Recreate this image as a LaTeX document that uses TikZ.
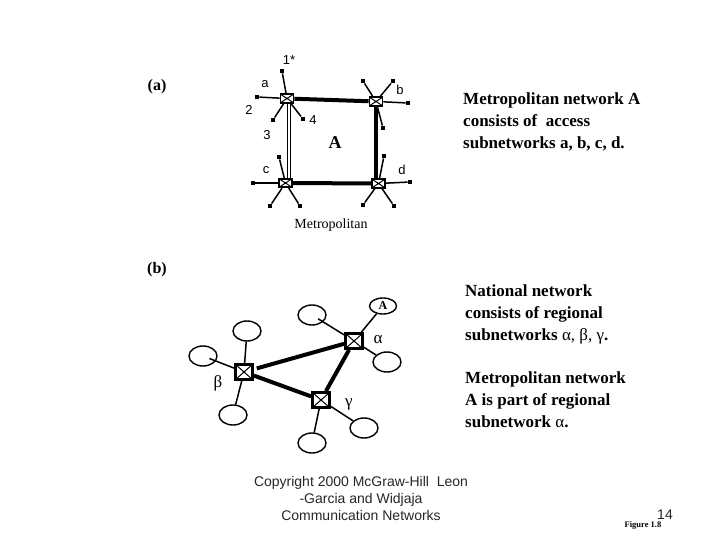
\documentclass[tikz,border=0pt]{standalone}
\usepackage{fontspec}
\setmainfont{Liberation Serif}
\setsansfont{Liberation Sans}
\usetikzlibrary{shapes.geometric}
\tikzset{
  xbox/.style={draw, fill=white, inner sep=0pt,
    path picture={\draw[line width=1pt]
      (path picture bounding box.north west) -- (path picture bounding box.south east)
      (path picture bounding box.north east) -- (path picture bounding box.south west);}},
  swa/.style={xbox, line width=1.8pt, minimum width=13pt, minimum height=8.5pt},
  swb/.style={xbox, line width=2.8pt, minimum width=17pt, minimum height=15pt},
  tip/.style={fill, rectangle, minimum size=4.5pt, inner sep=0pt},
  stub/.style={line width=1.5pt},
  trunk/.style={line width=4pt},
  dbl/.style={double, double distance=2.5pt, line width=0.7pt},
  host/.style={draw, ellipse, line width=1.4pt, minimum width=28pt, minimum height=20pt, inner sep=0pt},
  lab/.style={font=\sffamily\fontsize{13}{13}\selectfont, inner sep=0pt},
  greek/.style={font=\fontsize{17}{17}\selectfont, inner sep=0pt},
  side/.style={font=\bfseries\fontsize{17}{22}\selectfont, align=left, anchor=north west, inner sep=0pt},
}
\begin{document}
\begin{tikzpicture}[x=1pt, y=-1pt]
\useasboundingbox (0,0) rectangle (720,540);

% ---------- (a) ----------
\node[font=\bfseries\fontsize{16}{16}\selectfont, inner sep=0pt] (la) at (157,87) {(a)};

\node[swa] (sa) at (287,98.5) {};
\node[swa] (sb) at (376,101.5) {};
\node[swa] (sc) at (285.5,183) {};
\node[swa] (sd) at (378.5,183.5) {};

\draw[trunk] (sa) -- (sb);
\draw[trunk] (sc) -- (sd);
\draw[trunk] (sb.south) -- (sb.south |- sd.north);
\draw[dbl] ([xshift=2pt]sa.south) -- ([xshift=2pt]sa.south |- sc.north);

% stubs of a
\node[tip] (a1) at (282,71) {};
\node[tip] (a2) at (257,97) {};
\node[tip] (a3) at (273,120) {};
\node[tip] (a4) at (303,119) {};
\draw[stub] (sa) -- (a1);
\draw[stub] (sa) -- (a2);
\draw[stub] (sa) -- (a3);
\draw[stub] (sa) -- (a4);
% stubs of b
\node[tip] (b1) at (363,81) {};
\node[tip] (b2) at (393,81) {};
\node[tip] (b3) at (408,103) {};
\node[tip] (b4) at (383,128) {};
\draw[stub] (sb) -- (b1);
\draw[stub] (sb) -- (b2);
\draw[stub] (sb) -- (b3);
\draw[stub] (sb) -- (b4);
% stubs of c
\node[tip] (c1) at (279,157) {};
\node[tip] (c2) at (253,183) {};
\node[tip] (c3) at (270,206) {};
\node[tip] (c4) at (300,206) {};
\draw[stub] (sc) -- (c1);
\draw[stub] (sc) -- (c2);
\draw[stub] (sc) -- (c3);
\draw[stub] (sc) -- (c4);
% stubs of d
\node[tip] (d1) at (384,156) {};
\node[tip] (d2) at (410,182) {};
\node[tip] (d3) at (363,205) {};
\node[tip] (d4) at (394,206) {};
\draw[stub] (sd) -- (d1);
\draw[stub] (sd) -- (d2);
\draw[stub] (sd) -- (d3);
\draw[stub] (sd) -- (d4);

\node[lab] (t1) at (289,60) {1*};
\node[lab] (ta) at (265,84) {a};
\node[lab] (t2) at (249,110) {2};
\node[lab] (t3) at (267,135) {3};
\node[lab] (t4) at (313,120) {4};
\node[lab] (tb) at (400,90) {b};
\node[lab] (tc) at (266,170) {c};
\node[lab] (td) at (402,170) {d};
\node[font=\bfseries\fontsize{18}{18}\selectfont, inner sep=0pt] (bigA) at (335,143) {A};
\node[font=\fontsize{14}{14}\selectfont, inner sep=0pt] (metro) at (331,225) {Metropolitan};

\node[side] (txa) at (463,93) {Metropolitan network A\\consists of\ \ access\\subnetworks a, b, c, d.};

% ---------- (b) ----------
\node[font=\bfseries\fontsize{16}{16}\selectfont, inner sep=0pt] (lb) at (157,270) {(b)};

\node[swb] (al) at (354,341) {};
\node[swb] (be) at (244,372) {};
\node[swb] (ga) at (321,400) {};

\draw[trunk, shorten <=3pt] (be) -- (al);
\draw[trunk] (be) -- (ga);
\draw[trunk] (al) -- (ga);

\node[host, minimum width=27pt, minimum height=16pt, font=\bfseries\fontsize{12}{12}\selectfont] (hA) at (383,306) {A};
\node[host] (h1) at (312,315) {};
\node[host] (h2) at (387,362) {};
\node[host] (h3) at (247,331) {};
\node[host] (h4) at (203,356) {};
\node[host] (h5) at (233,415) {};
\node[host] (h6) at (312,443) {};
\node[host] (h7) at (364,428) {};

\draw[stub] (al) -- (hA);
\draw[stub, shorten >=-6pt] (al) -- (h1);
\draw[stub] (al) -- (h2);
\draw[stub] (be) -- (h3);
\draw[stub, shorten >=-7pt] (be) -- (h4);
\draw[stub] (be) -- (h5);
\draw[stub] (ga) -- (h6);
\draw[stub] (ga) -- (h7);

\node[greek] (galpha) at (378,340) {α};
\node[greek] (gbeta) at (218,383) {β};
\node[greek] (ggamma) at (349,404) {γ};

\node[side] (txb) at (465,285) {National network\\consists of regional\\subnetworks {\mdseries α, β, γ}.};
\node[side] (txc) at (465,372) {Metropolitan network\\A is part of regional\\subnetwork {\mdseries α}.};

% ---------- footer ----------
\node[font=\sffamily\fontsize{14}{17}\selectfont, align=center, text=black!85, inner sep=0pt] (copy) at (361,498) {Copyright 2000 McGraw-Hill\ \ Leon\\-Garcia and Widjaja\\Communication Networks};
\node[font=\sffamily\fontsize{14}{14}\selectfont, text=black!85, inner sep=0pt] (pg) at (665,515) {14};
\node[font=\bfseries\fontsize{8.5}{8.5}\selectfont, inner sep=0pt] (fig) at (643,525) {Figure 1.8};
\end{tikzpicture}
\end{document}
